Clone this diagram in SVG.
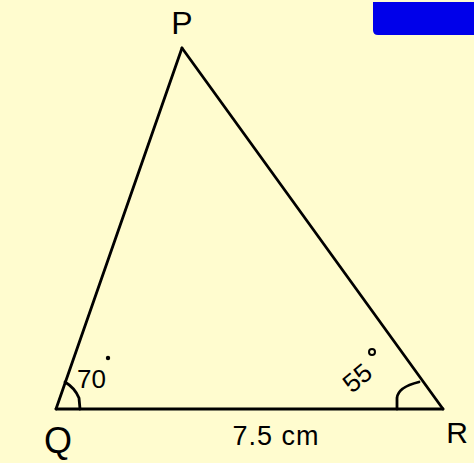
<svg xmlns="http://www.w3.org/2000/svg" width="474" height="463" viewBox="0 0 474 463">
<style>
.ln{fill:none;stroke:#000;stroke-width:2.8;stroke-linecap:round;stroke-linejoin:round}
.lb{font-family:"Liberation Sans",Arial,sans-serif;fill:#000}
</style>
<rect width="474" height="463" fill="#FFFCCF"/>
<g id="blue-box"><path d="M373 2 H474 V35 H378 Q373 35 373 30 Z" fill="#0000EA"/></g>
<g id="connectors">
<path class="ln" d="M182 48 L56 409"/>
<path class="ln" d="M182 48 L443 409"/>
<path class="ln" d="M56 409 L443 409"/>
<path class="ln" d="M65 382 Q75 388 79 398 L80 409"/>
<path class="ln" d="M397 409 V398 Q398 387 419 382"/>
</g>
<g id="P"><text class="lb" x="182" y="34" font-size="32" text-anchor="middle">P</text></g>
<g id="Q"><text class="lb" x="58" y="453" font-size="36" text-anchor="middle">Q</text></g>
<g id="R"><text class="lb" x="457" y="443" font-size="30" text-anchor="middle">R</text></g>
<g id="angle-Q"><text class="lb" x="77" y="388" font-size="26">70</text><circle cx="108" cy="358" r="2.2" fill="#000"/></g>
<g id="angle-R"><text class="lb" x="0" y="0" font-size="26" transform="translate(352 394) rotate(-40)">55</text><circle cx="372" cy="352" r="3" fill="none" stroke="#000" stroke-width="2"/></g>
<g id="side-QR"><text class="lb" x="276" y="445" font-size="27" text-anchor="middle" letter-spacing="1">7.5 cm</text></g>
</svg>
